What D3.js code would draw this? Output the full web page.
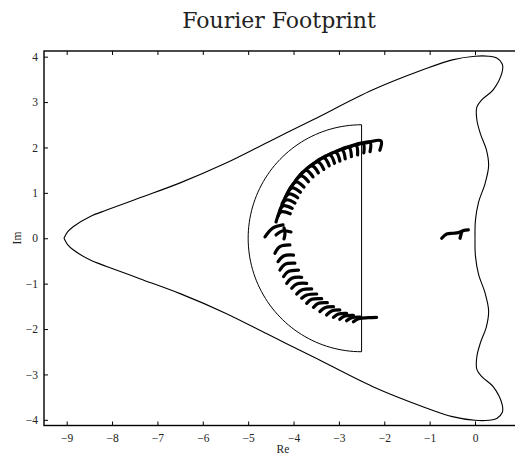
<!DOCTYPE html>
<html>
<head>
<meta charset="utf-8">
<script src="https://cdn.jsdelivr.net/npm/d3@7"></script>
<style>
  html, body { margin: 0; padding: 0; background: #fff; }
  svg { display: block; }
  .tick text { font-family: "Liberation Serif", "DejaVu Serif", serif; font-size: 11.5px; fill: #222; }
</style>
</head>
<body>
<svg id="chart" width="515" height="459"></svg>
<script>
// Stability boundary (upper half, re/im); the lower half is its complex conjugate.
const boundaryUpper = [
  [-9.06, 0.00], [-8.98, 0.14], [-8.85, 0.26], [-8.48, 0.48], [-8.12, 0.62],
  [-7.39, 0.89], [-6.50, 1.22], [-5.50, 1.65], [-4.50, 2.15], [-3.57, 2.61],
  [-2.25, 3.27], [-1.15, 3.71], [-0.50, 3.93], [0.00, 4.01], [0.30, 4.01],
  [0.48, 3.97], [0.60, 3.84], [0.60, 3.67], [0.40, 3.27], [0.15, 3.05],
  [0.04, 2.89], [0.04, 2.61], [0.12, 2.30], [0.25, 1.95], [0.30, 1.60],
  [0.22, 1.20], [0.08, 0.80], [0.01, 0.40], [0.00, 0.00]
];

// Half-disc region: centre and radius on the real axis
const discCentre = -2.5;
const discRadius = 2.5;

// Footprint eigenvalue traces, lower family
const lowerTraces = [
  [[-4.41, -0.33], [-4.30, -0.185], [-4.08, -0.148]],
  [[-4.34, -0.515], [-4.22, -0.39], [-4.00, -0.37]],
  [[-4.30, -0.70], [-4.19, -0.574], [-3.97, -0.55]],
  [[-4.22, -0.845], [-4.12, -0.735], [-3.89, -0.70]],
  [[-4.15, -0.993], [-4.04, -0.88], [-3.82, -0.86]],
  [[-4.04, -1.10], [-3.93, -1.007], [-3.71, -0.993]],
  [[-3.93, -1.228], [-3.82, -1.14], [-3.60, -1.117]],
  [[-3.82, -1.32], [-3.71, -1.25], [-3.49, -1.228]],
  [[-3.71, -1.433], [-3.60, -1.345], [-3.38, -1.33]],
  [[-3.56, -1.522], [-3.45, -1.433], [-3.255, -1.419]],
  [[-3.42, -1.617], [-3.31, -1.529], [-3.12, -1.507]],
  [[-3.27, -1.69], [-3.16, -1.602], [-2.98, -1.58]],
  [[-3.12, -1.742], [-3.01, -1.668], [-2.83, -1.654]],
  [[-2.98, -1.786], [-2.87, -1.713], [-2.68, -1.698]],
  [[-2.83, -1.816], [-2.72, -1.749], [-2.53, -1.735]],
  [[-2.68, -1.838], [-2.57, -1.772], [-2.35, -1.749], [-2.17, -1.742]]
];

// Footprint eigenvalue traces, upper family
const upperTraces = [
  [[-2.402, 2.100], [-2.072, 2.145], [-2.098, 1.937]],
  [[-2.579, 2.067], [-2.314, 2.116], [-2.314, 1.907]],
  [[-2.733, 2.023], [-2.469, 2.089], [-2.451, 1.880]],
  [[-2.887, 1.968], [-2.623, 2.045], [-2.588, 1.838]],
  [[-3.042, 1.913], [-2.777, 2.001], [-2.724, 1.799]],
  [[-3.196, 1.847], [-2.931, 1.946], [-2.861, 1.748]],
  [[-3.328, 1.781], [-3.064, 1.891], [-2.978, 1.699]],
  [[-3.460, 1.704], [-3.196, 1.836], [-3.097, 1.651]],
  [[-3.592, 1.616], [-3.328, 1.770], [-3.214, 1.594]],
  [[-3.725, 1.516], [-3.460, 1.682], [-3.333, 1.516]],
  [[-3.835, 1.406], [-3.592, 1.594], [-3.452, 1.439]],
  [[-3.945, 1.285], [-3.725, 1.494], [-3.571, 1.353]],
  [[-4.033, 1.153], [-3.835, 1.373], [-3.670, 1.245]],
  [[-4.122, 1.020], [-3.945, 1.241], [-3.769, 1.128]],
  [[-4.188, 0.888], [-4.033, 1.109], [-3.848, 1.012]],
  [[-4.254, 0.756], [-4.100, 0.976], [-3.908, 0.893]],
  [[-4.298, 0.624], [-4.166, 0.844], [-3.967, 0.776]],
  [[-4.342, 0.492], [-4.232, 0.712], [-4.029, 0.659]],
  [[-4.386, 0.359], [-4.276, 0.580], [-4.071, 0.540]],
  [[-4.629, 0.029], [-4.452, 0.227], [-4.232, 0.293]],
  [[-4.386, 0.073], [-4.254, 0.161], [-4.056, 0.139]],
  [[-4.210, 0.227], [-4.188, 0.117], [-4.210, -0.015]]
];

// Isolated trace close to the origin
const nearOriginTrace = [
  [-0.734, 0.00], [-0.624, 0.095], [-0.478, 0.11], [-0.368, 0.123],
  [-0.258, 0.167], [-0.148, 0.183]
];
const nearOriginTail = [[-0.293, 0.145], [-0.33, 0.00]];

const xTicks = [-9, -8, -7, -6, -5, -4, -3, -2, -1, 0];
const yTicks = [-4, -3, -2, -1, 0, 1, 2, 3, 4];

const svg = d3.select("#chart");
const x = d3.scaleLinear().domain([-9.5, 1]).range([44, 44 + 10.5 * 45.37]);
const y = d3.scaleLinear().domain([-4.125, 4.125]).range([425.5, 51]);

const fmt = d => (d < 0 ? "\u2212" + Math.abs(d) : String(d));

const plot = svg.append("g");

// stability boundary: upper half and its conjugate
const smooth = d3.line().x(d => x(d[0])).y(d => y(d[1])).curve(d3.curveCatmullRom.alpha(0.5));
[boundaryUpper, boundaryUpper.map(([re, im]) => [re, -im])].forEach(half => {
  plot.append("path")
    .attr("d", smooth(half))
    .attr("fill", "none").attr("stroke", "#000").attr("stroke-width", 1.1);
});

// half disc: arc on the left, straight edge at Re = centre
const arcPts = d3.range(90, 271, 2).map(a => {
  const t = a * Math.PI / 180;
  return [discCentre + discRadius * Math.cos(t), discRadius * Math.sin(t)];
});
plot.append("path")
  .attr("d", d3.line().x(d => x(d[0])).y(d => y(d[1]))(arcPts.concat([arcPts[0]])))
  .attr("fill", "none").attr("stroke", "#000").attr("stroke-width", 1);

// eigenvalue traces
const traceLine = d3.line().x(d => x(d[0])).y(d => y(d[1])).curve(d3.curveCatmullRom.alpha(0.5));
const traces = lowerTraces.concat(upperTraces, [nearOriginTrace, nearOriginTail]);
plot.selectAll("path.trace").data(traces).join("path")
  .attr("class", "trace")
  .attr("d", traceLine)
  .attr("fill", "none").attr("stroke", "#000")
  .attr("stroke-width", 3.2).attr("stroke-linecap", "round").attr("stroke-linejoin", "round");

// frame and inward ticks
const [x0, x1] = x.range();
const [yb, yt] = y.range();
svg.append("rect").attr("x", x0).attr("y", yt).attr("width", x1 - x0).attr("height", yb - yt)
  .attr("fill", "none").attr("stroke", "#000").attr("stroke-width", 1.4);

svg.append("g").attr("transform", `translate(0,${yb})`)
  .call(d3.axisBottom(x).tickValues(xTicks).tickSize(-4).tickPadding(8).tickFormat(fmt))
  .call(g => g.select(".domain").remove());
svg.append("g").attr("transform", `translate(0,${yt})`)
  .call(d3.axisTop(x).tickValues(xTicks).tickSize(-4).tickFormat(""))
  .call(g => g.select(".domain").remove());
svg.append("g").attr("transform", `translate(${x0},0)`)
  .call(d3.axisLeft(y).tickValues(yTicks).tickSize(-4).tickPadding(6).tickFormat(fmt))
  .call(g => g.select(".domain").remove());
svg.selectAll(".tick line").attr("stroke", "#000").attr("stroke-width", 1);

// labels
svg.append("text").attr("x", 279).attr("y", 28).attr("text-anchor", "middle")
  .attr("font-family", "DejaVu Serif, serif").attr("font-size", 22).attr("fill", "#222")
  .text("Fourier Footprint");
svg.append("text").attr("x", 283).attr("y", 453).attr("text-anchor", "middle")
  .attr("font-family", "Liberation Serif, serif").attr("font-size", 11.5).attr("fill", "#222")
  .text("Re");
svg.append("text").attr("transform", "translate(21,238) rotate(-90)").attr("text-anchor", "middle")
  .attr("font-family", "Liberation Serif, serif").attr("font-size", 11.5).attr("fill", "#222")
  .text("Im");
</script>
</body>
</html>
